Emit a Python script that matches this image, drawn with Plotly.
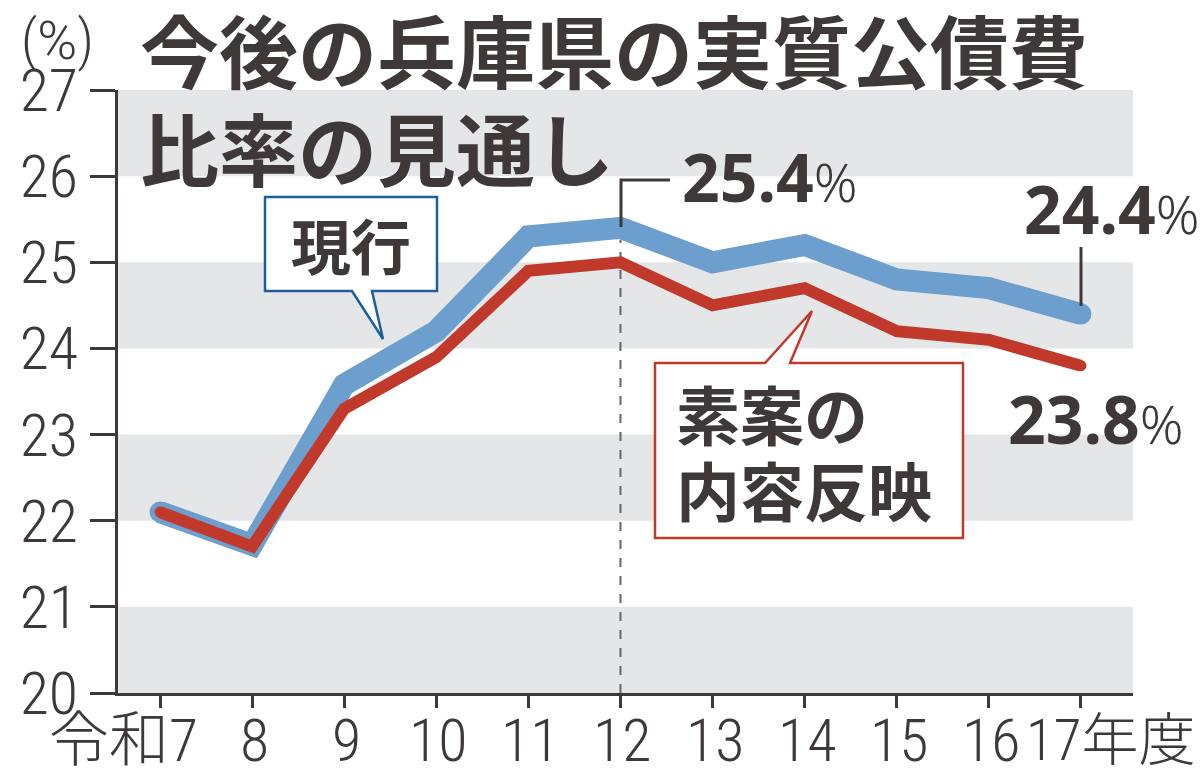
import plotly.graph_objects as go

# ---- data ----
years = ["令和7", "8", "9", "10", "11", "12", "13", "14", "15", "16", "17年度"]
current = [22.1, 21.72, 23.58, 24.2, 25.3, 25.4, 25.0, 25.2, 24.8, 24.7, 24.4]      # 現行
draft = [22.1, 21.7, 23.3, 23.9, 24.9, 25.0, 24.5, 24.7, 24.2, 24.1, 23.8]          # 素案の内容反映
y_ticks = [20, 21, 22, 23, 24, 25, 26, 27]
gray_bands = [(20, 21), (22, 23), (24, 25), (26, 27)]

# ---- styles ----
W, H = 1200, 769
L, R, T, B = 118, 1133, 90, 693
TXT = "#3e3839"
BLUE = "#6c9fcd"
RED = "#c0392b"
BAND = "#e5e6e8"
NARROW = "Liberation Sans Narrow, Roboto Condensed, Roboto, sans-serif"
CJK = "Noto Sans CJK JP"
BOLD_NUM = "Noto Sans, Open Sans, sans-serif"


def px(xp):
    return (xp - L) / (R - L)


def py(yp):
    return (B - yp) / (B - T)


xs = list(range(len(years)))
fig = go.Figure()

fig.add_trace(go.Scatter(x=xs, y=current, mode="lines+markers",
                         line=dict(color=BLUE, width=22),
                         marker=dict(color=BLUE, size=21, line=dict(width=0)),
                         hoverinfo="skip", showlegend=False))
fig.add_trace(go.Scatter(x=xs, y=draft, mode="lines+markers",
                         line=dict(color=RED, width=12),
                         marker=dict(color=RED, size=11, line=dict(width=0)),
                         hoverinfo="skip", showlegend=False))

shapes = []
for lo, hi in gray_bands:
    shapes.append(dict(type="rect", xref="paper", yref="y", x0=0, x1=1, y0=lo, y1=hi,
                       fillcolor=BAND, line=dict(width=0), layer="below"))
# dashed line at peak year
peak = 5
shapes.append(dict(type="line", xref="x", yref="paper", x0=xs[peak], x1=xs[peak],
                   y0=0, y1=py(240), line=dict(color="#666", width=2, dash="dash"),
                   layer="below"))
# leader lines
shapes.append(dict(type="path", xref="paper", yref="paper",
                   path=f"M {px(621)},{py(227)} L {px(621)},{py(180)} L {px(670)},{py(180)}",
                   line=dict(color=TXT, width=3)))
shapes.append(dict(type="line", xref="paper", yref="paper",
                   x0=px(1081), x1=px(1081), y0=py(247), y1=py(306),
                   line=dict(color=TXT, width=3)))


def callout(pts, color):
    d = "M " + " L ".join(f"{px(a)},{py(b)}" for a, b in pts) + " Z"
    return dict(type="path", xref="paper", yref="paper", path=d,
                fillcolor="white", line=dict(color=color, width=2.5))


shapes.append(callout([(265, 197), (437, 197), (437, 291), (372, 291), (383, 339),
                       (352, 291), (265, 291)], "#1d5f9c"))
shapes.append(callout([(655, 363), (765, 363), (812, 311), (790, 363), (963, 363),
                       (963, 538), (655, 538)], RED))

ann = []


def text(t, x, y, size, family, color=TXT, xanchor="center", yanchor="middle", weight=None):
    f = dict(size=size, family=family, color=color)
    if weight:
        f["weight"] = weight
    ann.append(dict(text=t, x=px(x), y=py(y), xref="paper", yref="paper",
                    xanchor=xanchor, yanchor=yanchor, showarrow=False, font=f))


# titles
text("今後の兵庫県の実質公債費", 138, 49, 79, CJK, weight=700, xanchor="left")
text("比率の見通し", 138, 146, 79, CJK, weight=700, xanchor="left")
text("(<span style='font-family:Roboto;font-size:54px'>%</span>)", 57, 40, 56, NARROW,
     weight=300)

# callout texts
text("現行", 351, 244, 60, CJK, weight=700)
text("素案の", 674, 412, 64, CJK, weight=700, xanchor="left")
text("内容反映", 674, 488, 64, CJK, weight=700, xanchor="left")

# value labels
pct = "<span style='font-weight:300;font-size:54px'>%</span>"
text(f"<b>{current[peak]:.1f}</b>{pct}", 680, 176, 66, BOLD_NUM, xanchor="left")
text(f"<b>{current[-1]:.1f}</b>{pct}", 1022, 208, 66, BOLD_NUM, xanchor="left")
text(f"<b>{draft[-1]:.1f}</b>{pct}", 1006, 418, 66, BOLD_NUM, xanchor="left")

# x labels
xfont = dict(size=60, family=NARROW + ", " + CJK, color=TXT, weight=300)
for i, lab in enumerate(years):
    if i == 0:
        a = dict(xanchor="right", xshift=40)
    elif i == len(years) - 1:
        a = dict(xanchor="right", xshift=116)
    else:
        a = dict(xanchor="center", xshift=2)
    f = dict(xfont)
    if i == len(years) - 1:
        f["size"] = 57
    ann.append(dict(text=lab, x=xs[i], y=py(740), xref="x", yref="paper",
                    yanchor="middle", showarrow=False, font=f, **a))

fig.update_layout(
    width=W, height=H,
    margin=dict(l=L, r=W - R, t=T, b=H - B, pad=0, autoexpand=False),
    paper_bgcolor="white", plot_bgcolor="white",
    shapes=shapes, annotations=ann,
    xaxis=dict(range=[-0.456, 10.565], tickmode="array", tickvals=xs, showticklabels=False,
               automargin=False,
               showgrid=False, zeroline=False, showline=True, linecolor=TXT, linewidth=3,
               ticks="outside", ticklen=12, tickwidth=3, tickcolor=TXT),
    yaxis=dict(range=[20, 27], tickmode="array", tickvals=y_ticks, automargin=False,
               showgrid=False, zeroline=False, showline=True, linecolor=TXT, linewidth=3,
               ticks="outside", ticklen=25, tickwidth=3, tickcolor=TXT,
               tickfont=dict(size=60, family=NARROW, color=TXT, weight=300)),
)

fig.write_html("out.html")
